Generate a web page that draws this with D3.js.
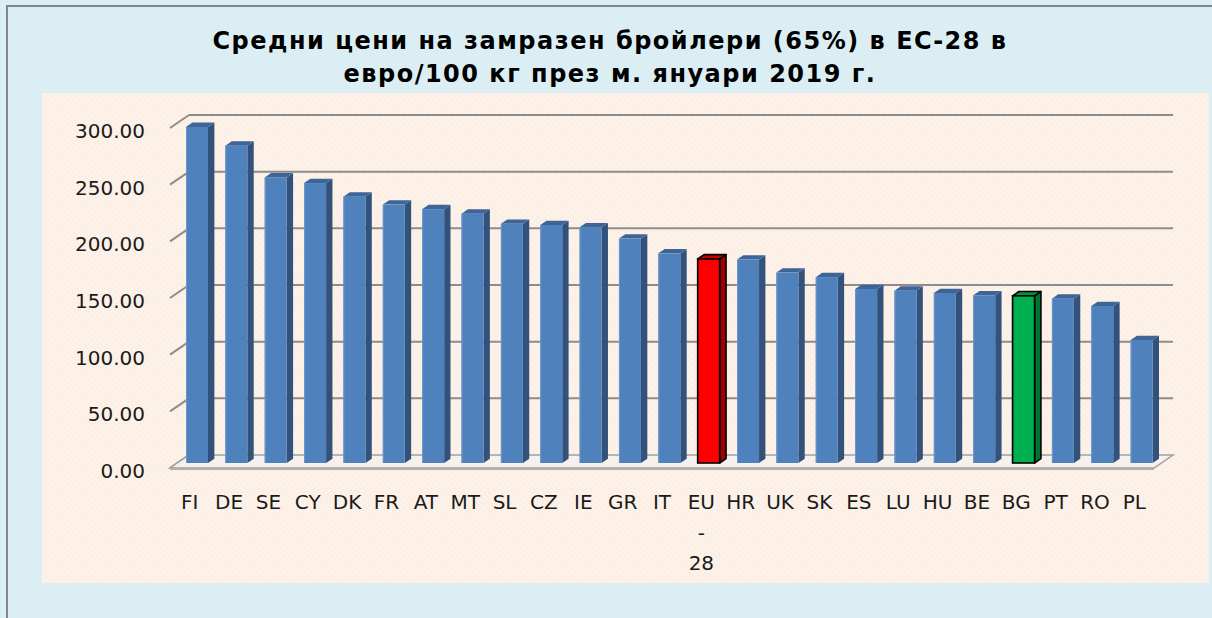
<!DOCTYPE html>
<html>
<head>
<meta charset="utf-8">
<script src="https://cdn.jsdelivr.net/npm/d3@7.9.0/dist/d3.min.js"></script>
<style>
  html, body { margin: 0; padding: 0; background: #dbeef4; }
  svg { display: block; }
  text { font-family: "DejaVu Sans", Verdana, sans-serif; fill: #1a1a1a; }
</style>
</head>
<body>
<div id="chart"></div>
<script>
// data
const countries = ['FI', 'DE', 'SE', 'CY', 'DK', 'FR', 'AT', 'MT', 'SL', 'CZ', 'IE', 'GR', 'IT',
  'EU-28', 'HR', 'UK', 'SK', 'ES', 'LU', 'HU', 'BE', 'BG', 'PT', 'RO', 'PL'];
const prices = [296.5, 280, 252, 247, 235, 228, 224, 220, 211, 210, 208, 198, 185,
  180, 179.5, 168, 164, 153.5, 152, 150, 148, 147.5, 145, 138.5, 108.5];
const yTicks = [0, 50, 100, 150, 200, 250, 300];
const titleLines = ['Средни цени на замразен бройлери (65%) в ЕС-28 в', 'евро/100 кг през м. януари 2019 г.'];

const width = 1212;
const height = 618;

// 3d look: depth offset of back wall relative to the front edge
const depth = { dx: 19, dy: -13 };

const svg = d3.select('#chart')
  .append('svg')
  .attr('width', width)
  .attr('height', height);

const defs = svg.append('defs');

const pat = defs.append('pattern')
  .attr('id', 'dots')
  .attr('width', 6)
  .attr('height', 6)
  .attr('patternUnits', 'userSpaceOnUse');
pat.append('rect').attr('width', 6).attr('height', 6).attr('fill', '#fcf0e6');
pat.append('rect').attr('x', 1).attr('y', 1).attr('width', 1).attr('height', 1).attr('fill', '#ffffff');
pat.append('rect').attr('x', 4).attr('y', 4).attr('width', 1).attr('height', 1).attr('fill', '#ffffff').attr('opacity', 0.7);

// BACKGROUND

svg.append('rect')
  .attr('x', 7).attr('y', 6)
  .attr('width', width).attr('height', height)
  .attr('fill', '#dbeef4')
  .attr('stroke', '#858585')
  .attr('stroke-width', 2);

svg.append('rect')
  .attr('x', 42).attr('y', 93)
  .attr('width', 1209 - 42).attr('height', 583 - 93)
  .attr('fill', 'url(#dots)');

// TITLE

svg.append('g')
  .selectAll('text')
  .data(titleLines)
  .join('text')
  .attr('x', 610)
  .attr('y', (d, i) => 49 + i * 33)
  .attr('text-anchor', 'middle')
  .style('font-size', '24px')
  .style('font-weight', 'bold')
  .style('letter-spacing', '1.5px')
  .style('fill', '#000')
  .text((d) => d);

// SCALES (back wall)

const yScale = d3.scaleLinear()
  .domain([0, 300])
  .range([455, 115]);

const xScale = d3.scaleBand()
  .domain(countries)
  .range([170, 1154])
  .padding(0);

const backLeft = 170 + depth.dx;
const backRight = 1154 + depth.dx;

// GRIDLINES on back wall + slanted ticks on the left side

const grid = svg.append('g').attr('class', 'gridlines');

grid.selectAll('line.back')
  .data(yTicks.filter((d) => d > 0))
  .join('line')
  .attr('class', 'back')
  .attr('x1', backLeft)
  .attr('x2', backRight)
  .attr('y1', (d) => yScale(d))
  .attr('y2', (d) => yScale(d))
  .attr('stroke', '#8c8c8c')
  .attr('stroke-width', 2);

grid.selectAll('line.side')
  .data(yTicks)
  .join('line')
  .attr('class', 'side')
  .attr('x1', 170)
  .attr('y1', (d) => yScale(d) - depth.dy)
  .attr('x2', backLeft)
  .attr('y2', (d) => yScale(d))
  .attr('stroke', '#8c8c8c')
  .attr('stroke-width', 2);

// FLOOR

const y0 = yScale(0);
svg.append('path')
  .attr('d', `M${backLeft},${y0} L${backRight},${y0} L${1154},${y0 - depth.dy} L${170},${y0 - depth.dy} Z`)
  .attr('fill', '#f6f1ec')
  .attr('stroke', '#a0a0a0')
  .attr('stroke-width', 1.5);

svg.append('line')
  .attr('x1', 170).attr('x2', 1154)
  .attr('y1', y0 - depth.dy + 1).attr('y2', y0 - depth.dy + 1)
  .attr('stroke', '#b0b0b0')
  .attr('stroke-width', 2);

// Y LABELS (front plane)

svg.append('g')
  .selectAll('text')
  .data(yTicks)
  .join('text')
  .attr('x', 145)
  .attr('y', (d) => yScale(d) - depth.dy + 10)
  .attr('text-anchor', 'end')
  .style('font-size', '20px')
  .text((d) => d3.format('.2f')(d));

// BARS

const colors = {
  normal: { face: '#4f81bd', side: '#32527c', top: '#3d6597', stroke: 'none' },
  'EU-28': { face: '#ff0000', side: '#a00000', top: '#c80000', stroke: '#000' },
  BG: { face: '#00b050', side: '#007533', top: '#00923f', stroke: '#000' },
};

const tFront = 0.385;
const tBack = 0.72;
const barW = 22;

const bars = svg.append('g')
  .attr('class', 'bars')
  .selectAll('g')
  .data(countries.map((c, i) => ({ country: c, value: prices[i] })))
  .join('g');

function barGeom(d) {
  const cx = xScale(d.country) + xScale.bandwidth() / 2;
  const fx = cx + depth.dx * tFront - barW / 2;
  const fyBase = y0 - depth.dy + depth.dy * tFront;
  const fyTop = fyBase - (y0 - yScale(d.value));
  const ox = depth.dx * (tBack - tFront);
  const oy = depth.dy * (tBack - tFront);
  return { fx, fyBase, fyTop, ox, oy };
}

bars.each(function (d) {
  const g = d3.select(this);
  const c = colors[d.country] || colors.normal;
  const { fx, fyBase, fyTop, ox, oy } = barGeom(d);
  const sw = c.stroke === 'none' ? 0 : 1.6;

  // side face
  g.append('path')
    .attr('d', `M${fx + barW},${fyTop} L${fx + barW + ox},${fyTop + oy} L${fx + barW + ox},${fyBase + oy} L${fx + barW},${fyBase} Z`)
    .attr('fill', c.side)
    .attr('stroke', c.stroke === 'none' ? null : c.stroke)
    .attr('stroke-width', sw)
    .attr('stroke-linejoin', 'round');

  // top face
  g.append('path')
    .attr('d', `M${fx},${fyTop} L${fx + ox},${fyTop + oy} L${fx + barW + ox},${fyTop + oy} L${fx + barW},${fyTop} Z`)
    .attr('fill', c.top)
    .attr('stroke', c.stroke === 'none' ? null : c.stroke)
    .attr('stroke-width', sw)
    .attr('stroke-linejoin', 'round');

  // front face
  g.append('rect')
    .attr('x', fx)
    .attr('y', fyTop)
    .attr('width', barW)
    .attr('height', fyBase - fyTop)
    .attr('fill', c.face)
    .attr('stroke', c.stroke === 'none' ? null : c.stroke)
    .attr('stroke-width', sw);

  if (c.stroke === 'none') {
    // light bevel on the front edge
    g.append('line')
      .attr('x1', fx + 0.5).attr('x2', fx + 0.5)
      .attr('y1', fyTop).attr('y2', fyBase)
      .attr('stroke', '#6a98cf')
      .attr('stroke-width', 1);
  }
});

// X LABELS

const xLabels = svg.append('g')
  .selectAll('text')
  .data(countries)
  .join('text')
  .attr('x', (d) => xScale(d) + xScale.bandwidth() / 2)
  .attr('y', 509)
  .attr('text-anchor', 'middle')
  .style('font-size', '20px');

xLabels.each(function (d) {
  const parts = d === 'EU-28' ? ['EU', '-', '28'] : [d];
  d3.select(this)
    .selectAll('tspan')
    .data(parts)
    .join('tspan')
    .attr('x', xScale(d) + xScale.bandwidth() / 2)
    .attr('dy', (p, i) => (i === 0 ? 0 : 30.5))
    .text((p) => p);
});
</script>
</body>
</html>
